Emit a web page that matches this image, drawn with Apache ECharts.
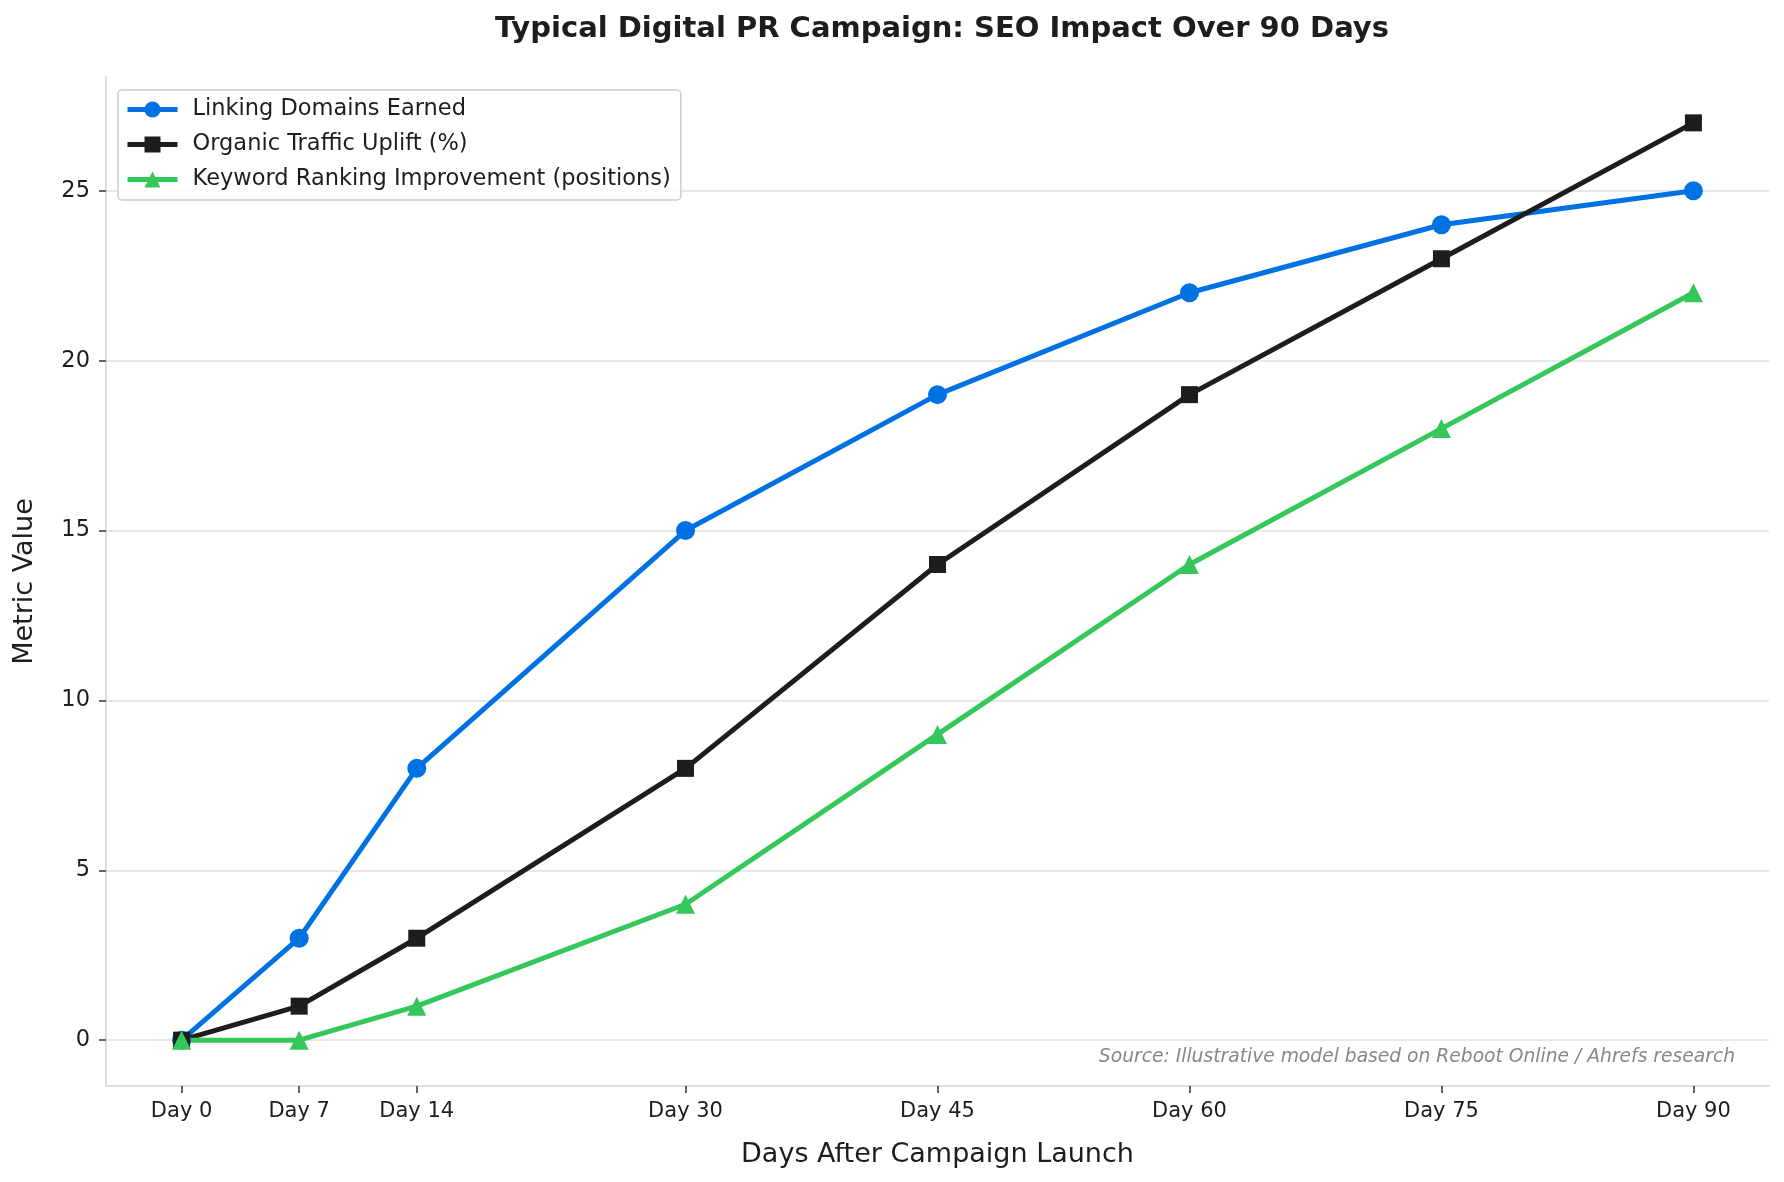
<!DOCTYPE html>
<html>
<head>
<meta charset="utf-8">
<script src="https://cdn.jsdelivr.net/npm/echarts@6/dist/echarts.min.js"></script>
<style>
  html, body { margin: 0; padding: 0; background: #fff; }
  #chart { width: 1784px; height: 1182px; }
</style>
</head>
<body>
<div id="chart"></div>
<script>
const days = [0, 7, 14, 30, 45, 60, 75, 90];
const linkingDomains = [0, 3, 8, 15, 19, 22, 24, 25];
const trafficUplift = [0, 1, 3, 8, 14, 19, 23, 27];
const rankingImprovement = [0, 0, 1, 4, 9, 14, 18, 22];
const yTicks = [0, 5, 10, 15, 20, 25];

const font = "DejaVu Sans";

function pairs(values) {
  return days.map((d, i) => [d, values[i]]);
}

function lineSeries(name, values, color, symbol, size) {
  return {
    name: name,
    type: "line",
    data: pairs(values),
    symbol: symbol,
    symbolSize: size,
    lineStyle: { color: color, width: 5 },
    itemStyle: { color: color },
    emphasis: { disabled: true },
  };
}

const chart = echarts.init(document.getElementById("chart"));

chart.setOption({
  animation: false,
  backgroundColor: "#ffffff",
  textStyle: { fontFamily: font },
  title: {
    text: "Typical Digital PR Campaign: SEO Impact Over 90 Days",
    left: 937,
    top: 10,
    textAlign: "center",
    textStyle: { fontFamily: font, fontSize: 29, fontWeight: "bold", color: "#1d1d1f" },
  },
  legend: {
    orient: "vertical",
    left: 118,
    top: 90,
    itemWidth: 50,
    itemHeight: 20,
    itemGap: 12,
    padding: [8, 10, 9, 7],
    backgroundColor: "rgba(255,255,255,0.85)",
    borderColor: "#cccccc",
    borderWidth: 1.5,
    borderRadius: 4,
    lineStyle: { width: 5 },
    textStyle: { fontFamily: font, fontSize: 22.5, color: "#1d1d1f", padding: [0, 0, 0, 10] },
  },
  grid: { left: 106, right: 15, top: 77, bottom: 96, containLabel: false },
  xAxis: {
    type: "value",
    min: -4.5,
    max: 94.5,
    name: "Days After Campaign Launch",
    nameLocation: "middle",
    nameGap: 55,
    nameTextStyle: { fontFamily: font, fontSize: 27, color: "#1d1d1f" },
    axisLine: { show: true, onZero: false, lineStyle: { color: "#dddddd", width: 2 } },
    axisTick: { show: true, customValues: days, length: 7, lineStyle: { color: "#333333", width: 1.5 } },
    axisLabel: {
      customValues: days,
      formatter: (v) => "Day " + v,
      margin: 15,
      fontFamily: font,
      fontSize: 21,
      color: "#1d1d1f",
    },
    splitLine: { show: false },
  },
  yAxis: {
    type: "value",
    min: -1.35,
    max: 28.35,
    name: "Metric Value",
    nameLocation: "middle",
    nameGap: 68,
    nameTextStyle: { fontFamily: font, fontSize: 27, color: "#1d1d1f" },
    axisLine: { show: true, onZero: false, lineStyle: { color: "#dddddd", width: 2 } },
    axisTick: { show: true, customValues: yTicks, length: 7, lineStyle: { color: "#333333", width: 1.5 } },
    axisLabel: {
      customValues: yTicks,
      margin: 16,
      fontFamily: font,
      fontSize: 22.5,
      color: "#1d1d1f",
    },
    splitLine: { show: true, lineStyle: { color: "#e0e0e0", width: 1.5 } },
  },
  graphic: [
    {
      type: "text",
      right: 1784 - 1735,
      top: 1048,
      style: {
        text: "Source: Illustrative model based on Reboot Online / Ahrefs research",
        font: "italic 18.7px 'DejaVu Sans'",
        fill: "#888888",
      },
    },
  ],
  series: [
    lineSeries("Linking Domains Earned", linkingDomains, "#0071e3", "circle", 19),
    lineSeries("Organic Traffic Uplift (%)", trafficUplift, "#1d1d1f", "rect", 17),
    lineSeries("Keyword Ranking Improvement (positions)", rankingImprovement, "#34c759", "triangle", 19),
  ],
});

window.addEventListener("resize", () => chart.resize());
</script>
</body>
</html>
